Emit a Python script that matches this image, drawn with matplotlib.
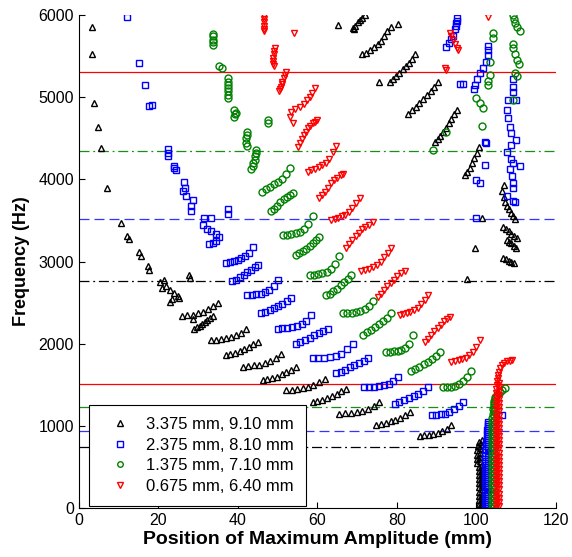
import matplotlib
matplotlib.use("Agg")
import matplotlib.pyplot as plt

# ---- data: position of maximum amplitude (mm) vs frequency (Hz) ----

labels = ["3.375 mm, 9.10 mm", "2.375 mm, 8.10 mm",
          "1.375 mm, 7.10 mm", "0.675 mm, 6.40 mm"]

# 3.375 mm case
black_pos = [
    3.4, 3.4, 3.9, 4.8, 5.6, 7.1, 10.5, 12.2, 12.6, 15.2, 15.5, 17.4, 17.6,
    20.5, 21.5, 22.0, 21.0, 23.0, 24.0, 24.8, 23.5, 22.8, 25.2, 27.7, 28.0,
    26.0, 27.3, 28.6, 29.9, 31.2, 32.5, 33.8, 35.0, 28.8,
    29.0, 29.7, 30.4, 31.0, 31.7, 32.3, 33.0, 33.6,
    33.2, 34.5, 35.7, 37.0, 38.3, 39.5, 40.8, 42.0,
    37.0, 38.1, 39.3, 40.4, 41.6, 42.7, 43.9, 45.0,
    41.2, 42.6, 44.0, 45.3, 46.7, 48.1, 49.5, 50.8,
    46.2, 47.4, 48.6, 49.8, 51.0, 52.2, 53.4, 54.6,
    52.1, 53.5, 54.9, 56.3, 57.6, 59.0, 60.4, 61.8,
    58.8, 60.0, 61.2, 62.4, 63.6, 64.8, 66.0, 67.2,
    65.5, 67.0, 68.4, 69.9, 71.3, 72.8, 74.2, 75.6,
    74.8, 76.0, 77.2, 78.4, 79.6, 80.8, 82.0, 83.2,
    85.7, 86.8, 88.0, 89.1, 90.3, 91.4, 92.6, 93.7,
    65.1, 69.3, 80.3, 68.9, 69.5, 70.1, 70.7, 71.3, 71.9,
    71.2, 72.2, 73.2, 74.2, 75.2, 76.0, 76.8, 77.6, 78.5,
    75.6, 78.2, 79.0, 79.8, 80.6, 81.4, 82.2, 83.0, 83.8, 84.5,
    82.8, 83.7, 84.7, 85.6, 86.6, 87.5, 88.5, 89.4, 90.3,
    89.5, 90.2, 90.9, 91.6, 92.3, 93.0, 93.7, 94.4, 95.0,
    97.1, 97.7, 98.3, 98.9, 99.5, 100.1, 100.7,
    97.5, 99.6, 101.3,
    107.0, 106.5, 106.8, 107.3, 107.8, 108.3, 108.8, 109.3, 109.8,
    106.7, 107.4, 108.1, 108.8, 109.5, 110.1,
    107.6, 108.2, 108.8, 109.4, 109.9,
    106.7, 107.4, 108.1, 108.8, 109.4,
]
black_freq = [
    5860, 5520, 4925, 4640, 4380, 3890, 3470, 3310, 3270, 3110, 3070, 2950, 2900,
    2750, 2770, 2700, 2680, 2650, 2620, 2580, 2540, 2510, 2560, 2830, 2800,
    2340, 2345, 2355, 2370, 2390, 2420, 2460, 2500, 2300,
    2180, 2200, 2220, 2240, 2260, 2285, 2310, 2340,
    2040, 2045, 2055, 2065, 2080, 2100, 2135, 2180,
    1860, 1875, 1890, 1910, 1935, 1960, 1990, 2020,
    1720, 1725, 1735, 1745, 1760, 1785, 1825, 1880,
    1560, 1570, 1585, 1600, 1625, 1650, 1685, 1720,
    1430, 1435, 1445, 1455, 1470, 1495, 1530, 1570,
    1290, 1300, 1315, 1335, 1360, 1390, 1420, 1450,
    1150, 1155, 1160, 1170, 1185, 1205, 1240, 1290,
    1010, 1020, 1035, 1055, 1075, 1100, 1135, 1170,
    880, 885, 890, 900, 915, 935, 965, 1010,
    5880, 5830, 5890, 5840, 5870, 5910, 5940, 5970, 6000,
    5520, 5540, 5570, 5610, 5650, 5690, 5740, 5800, 5850,
    5190, 5190, 5220, 5260, 5300, 5340, 5380, 5420, 5470, 5530,
    4800, 4840, 4880, 4930, 4980, 5030, 5080, 5130, 5190,
    4460, 4490, 4530, 4580, 4630, 4680, 4730, 4790, 4840,
    4050, 4090, 4140, 4200, 4260, 4320, 4390,
    2790, 3160, 3525,
    3930, 3860, 3790, 3730, 3680, 3640, 3590, 3550, 3520,
    3420, 3390, 3370, 3340, 3310, 3290,
    3260, 3240, 3220, 3190, 3160,
    3040, 3030, 3010, 2990, 2980,
]
black_col_pos = [100.6, 101.4, 100.6, 101.4, 100.6, 101.4, 100.6, 101.4,
                 100.6, 101.4, 100.6, 101.4, 100.6, 101.4, 100.6, 101.4,
                 100.6, 101.4, 100.6, 101.4, 100.6, 101.4, 100.2, 101.0,
                 100.2, 101.0, 100.2, 101.0, 100.2, 101.0, 100.4, 101.2,
                 100.6, 101.4]
black_col_freq = [0, 25, 50, 75, 100, 125, 150, 175, 200, 225, 250, 275,
                  300, 325, 350, 375, 400, 425, 450, 475, 500, 525, 550, 575,
                  600, 625, 650, 675, 700, 725, 750, 775, 800, 825]

# 2.375 mm case
blue_pos = [
    12.0, 15.1, 16.5, 17.7, 18.3, 22.3, 22.3, 22.3, 23.8, 24.4, 24.0,
    26.5, 26.7, 26.2, 26.9, 28.6, 28.3, 28.1, 37.4, 37.4,
    31.5, 33.2, 31.1, 32.2, 33.2, 34.4, 35.3, 34.5, 33.6, 32.8,
    37.0, 38.0, 38.9, 39.9, 40.8, 41.8, 42.7, 43.7,
    38.5, 39.4, 40.4, 41.4, 42.3, 43.3, 44.2, 45.0,
    42.4, 43.5, 44.6, 45.7, 46.8, 47.9, 49.0, 50.0,
    45.8, 46.9, 48.0, 49.0, 50.1, 51.2, 52.3, 53.4,
    50.0, 51.2, 52.4, 53.6, 54.8, 56.0, 57.2, 58.4,
    54.6, 55.7, 56.9, 58.0, 59.2, 60.3, 61.5, 62.6,
    58.8, 60.2, 61.7, 63.1, 64.6, 66.0, 67.5, 68.9,
    64.7, 65.8, 67.0, 68.1, 69.3, 70.4, 71.6, 72.7,
    71.8, 73.0, 74.2, 75.4, 76.7, 77.9, 79.1, 80.3,
    79.4, 80.6, 81.8, 83.0, 84.2, 85.4, 86.6, 87.8,
    88.7, 89.8, 91.0, 92.1, 93.2, 94.4, 95.5, 96.6,
    92.4, 93.2, 93.5, 94.1, 94.5, 94.9, 95.0, 95.0, 94.9,
    95.8, 96.5,
    99.6, 99.4, 100.2, 101.0, 101.7, 102.5, 102.9, 102.9, 103.0,
    100.0, 100.8, 102.1, 102.5, 102.2, 100.0, 106.3,
    109.2, 109.2, 109.2, 108.0, 110.0, 107.6, 108.0, 108.4, 108.8, 110.0,
    108.8, 107.8, 108.6, 109.2, 110.9, 108.4, 109.0, 109.3, 109.2, 107.6,
    109.2, 109.6,
]
blue_freq = [
    5980, 5420, 5150, 4890, 4900, 4370, 4320, 4280, 4160, 4110, 4140,
    3970, 3900, 3860, 3800, 3750, 3680, 3620, 3640, 3580,
    3530, 3530, 3440, 3400, 3370, 3340, 3300, 3250, 3230, 3210,
    2980, 2990, 3005, 3020, 3040, 3065, 3100, 3180,
    2760, 2780, 2810, 2840, 2870, 2900, 2930, 2960,
    2590, 2595, 2600, 2610, 2625, 2650, 2700, 2770,
    2370, 2390, 2410, 2430, 2455, 2480, 2515, 2560,
    2180, 2185, 2190, 2200, 2215, 2240, 2280, 2350,
    2000, 2025, 2050, 2075, 2100, 2125, 2150, 2180,
    1820, 1825, 1830, 1840, 1855, 1880, 1930, 2000,
    1640, 1660, 1685, 1710, 1740, 1765, 1795, 1820,
    1470, 1472, 1478, 1485, 1495, 1510, 1540, 1600,
    1270, 1290, 1310, 1335, 1360, 1390, 1425, 1470,
    1130, 1135, 1140, 1150, 1170, 1200, 1240, 1290,
    5610, 5660, 5710, 5750, 5830, 5900, 5970, 5930, 5870,
    5160, 5160,
    5150, 5100, 5220, 5290, 5350, 5430, 5510, 5580, 5620,
    3990, 3950, 4180, 4440, 4460, 3525, 1130,
    5220, 5130, 5060, 4970, 4970, 4850, 4750, 4640, 4560, 4480,
    4420, 4330, 4250, 4200, 4160, 4120, 4040, 3960, 3900, 3800,
    3740, 3720,
]
blue_col_pos = [102.2, 103.0, 102.2, 103.0, 102.2, 103.0, 102.2, 103.0,
                102.2, 103.0, 102.2, 103.0, 102.2, 103.0, 102.2, 103.0,
                102.2, 103.0, 102.2, 103.0, 102.2, 103.0, 102.2, 103.0,
                102.2, 103.0, 102.2, 103.0, 102.2, 103.0, 102.4, 103.0,
                102.4, 103.0, 102.6, 103.0, 102.6, 103.0, 102.6, 103.0,
                102.8, 103.0, 102.8]
blue_col_freq = [0, 25, 50, 75, 100, 125, 150, 175, 200, 225, 250, 275,
                 300, 325, 350, 375, 400, 425, 450, 475, 500, 525, 550, 575,
                 600, 625, 650, 675, 700, 725, 750, 775, 800, 825, 850, 875,
                 900, 925, 950, 975, 1000, 1025, 1050]

# 1.375 mm case
green_pos = [
    33.6, 33.6, 33.6, 33.6, 33.6, 35.3, 36.1,
    37.4, 37.4, 37.4, 37.4, 37.4, 37.4, 37.4,
    39.1, 39.6, 39.3, 39.1, 47.5, 47.5, 42.4, 42.2, 42.0, 41.9, 42.4,
    44.5, 44.5, 44.4, 44.2, 43.9, 43.7, 43.4,
    46.0, 47.0, 48.0, 49.0, 50.0, 51.0, 52.0, 53.0,
    48.3, 49.1, 49.9, 50.7, 51.5, 52.3, 53.1, 53.8,
    51.3, 52.4, 53.4, 54.5, 55.6, 56.6, 57.7, 58.8,
    54.6, 55.4, 56.3, 57.1, 58.0, 58.8, 59.7, 60.5,
    58.0, 59.1, 60.1, 61.2, 62.3, 63.3, 64.4, 65.5,
    62.2, 63.1, 64.0, 64.9, 65.8, 66.7, 67.6, 68.5,
    66.4, 67.5, 68.6, 69.7, 70.8, 71.9, 73.0, 74.0,
    71.4, 72.4, 73.4, 74.5, 75.5, 76.5, 77.6, 78.6,
    77.3, 78.3, 79.2, 80.2, 81.1, 82.1, 83.0, 84.0,
    83.6, 84.6, 85.6, 86.7, 87.7, 88.7, 89.8, 90.8,
    91.6, 92.6, 93.6, 94.6, 95.6, 96.6, 97.7, 98.7,
    104.7, 105.2, 105.8, 106.5, 107.3,
    89.1, 92.4, 101.3, 100.0, 100.8, 101.7, 102.9, 102.9, 103.3, 103.4,
    104.2, 104.2,
    109.2, 109.4, 109.8, 110.3, 110.9, 109.2, 109.2, 109.6, 110.3, 110.8,
    109.8, 110.3, 109.2,
]
green_freq = [
    5770, 5740, 5700, 5670, 5640, 5380, 5350,
    5230, 5190, 5150, 5110, 5070, 5030, 4990,
    4850, 4810, 4790, 4760, 4720, 4680, 4580, 4540, 4500, 4440, 4400,
    4360, 4320, 4280, 4240, 4200, 4160, 4130,
    3850, 3880, 3910, 3940, 3970, 4010, 4070, 4140,
    3610, 3640, 3680, 3720, 3760, 3790, 3810, 3830,
    3320, 3325, 3330, 3345, 3365, 3400, 3460, 3560,
    3080, 3100, 3125, 3155, 3190, 3225, 3265, 3300,
    2840, 2840, 2845, 2855, 2875, 2910, 2970, 3070,
    2590, 2610, 2640, 2670, 2710, 2750, 2790, 2830,
    2370, 2372, 2378, 2388, 2400, 2420, 2455, 2520,
    2110, 2140, 2170, 2200, 2235, 2270, 2310, 2370,
    1900, 1900, 1905, 1910, 1925, 1950, 2000, 2110,
    1670, 1690, 1720, 1750, 1780, 1810, 1850, 1900,
    1470, 1472, 1478, 1490, 1510, 1545, 1600, 1670,
    1350, 1380, 1410, 1430, 1460,
    4360, 4580, 4650, 4990, 4930, 4870, 5150, 5200, 5270, 5430,
    5780, 5720,
    6000, 5950, 5900, 5850, 5800, 5650, 5600, 5530, 5450, 5400,
    5300, 5260, 4960,
]
green_col_pos = [103.9, 104.5, 103.9, 104.5, 103.9, 104.5, 103.9, 104.5,
                 103.9, 104.5, 103.9, 104.5, 103.9, 104.5, 103.9, 104.5,
                 103.9, 104.5, 103.9, 104.5, 103.9, 104.5, 103.9, 104.5,
                 103.9, 104.5, 103.9, 104.5, 103.9, 104.5, 103.9, 104.5,
                 103.9, 104.5, 103.9, 104.5, 103.9, 104.5, 103.9, 104.5,
                 103.9, 104.5, 103.9, 104.5, 103.9, 104.5, 104.1, 104.5,
                 104.1, 104.5, 104.3, 104.5, 104.3, 104.6]
green_col_freq = [0, 25, 50, 75, 100, 125, 150, 175, 200, 225, 250, 275,
                  300, 325, 350, 375, 400, 425, 450, 475, 500, 525, 550, 575,
                  600, 625, 650, 675, 700, 725, 750, 775, 800, 825, 850, 875,
                  900, 925, 950, 975, 1000, 1025, 1050, 1075, 1100, 1125,
                  1150, 1175, 1200, 1225, 1250, 1275, 1300, 1330]

# 0.675 mm case
red_pos = [
    46.6, 46.6, 46.6, 46.6, 46.6, 46.6, 54.2,
    49.2, 49.1, 49.0, 48.9, 48.8, 48.7, 49.0,
    52.0, 51.8, 51.5, 51.2, 51.0, 50.8, 50.6, 50.4,
    53.8, 53.2, 53.4, 54.4, 55.6, 56.6, 57.4, 58.0, 58.6, 59.4,
    55.0, 55.5, 56.0, 56.5, 57.0, 57.6, 58.2, 58.8, 59.3, 59.8,
    57.6, 58.5, 59.4, 60.3, 61.2, 62.1, 63.0, 63.9, 64.7,
    60.5, 61.2, 61.9, 62.6, 63.4, 64.2, 65.0, 65.8, 66.4,
    63.4, 64.3, 65.2, 66.1, 67.0, 67.9, 68.8, 69.7, 70.6,
    67.2, 68.0, 68.8, 69.6, 70.4, 71.2, 72.0, 72.9, 73.9,
    71.0, 72.0, 73.0, 74.0, 75.0, 75.9, 76.8, 77.7, 78.6,
    75.2, 76.0, 76.8, 77.6, 78.4, 79.2, 80.1, 81.0, 81.9,
    80.7, 81.6, 82.5, 83.4, 84.3, 85.2, 86.1, 87.0, 87.8,
    87.0, 87.8, 88.6, 89.4, 90.2, 91.0, 91.8, 92.6, 93.3,
    93.7, 94.6, 95.5, 96.4, 97.3, 98.2, 99.0, 99.9, 100.8,
    105.4, 105.5, 105.6, 105.9, 106.4, 107.0, 107.7, 108.4, 108.9,
    102.9, 92.0, 92.4, 93.3, 93.7, 94.0, 94.6, 95.2, 95.4,
]
red_freq = [
    5990, 5950, 5910, 5870, 5830, 5800, 5780,
    5600, 5560, 5520, 5480, 5440, 5410, 5380,
    5310, 5270, 5230, 5190, 5160, 5130, 5100, 5080,
    4690, 4760, 4820, 4860, 4880, 4920, 4960, 5000, 5050, 5110,
    4390, 4440, 4490, 4540, 4580, 4620, 4650, 4680, 4700, 4720,
    4090, 4110, 4130, 4150, 4170, 4200, 4250, 4330, 4400,
    3770, 3810, 3850, 3900, 3950, 3990, 4020, 4050, 4070,
    3500, 3515, 3530, 3550, 3570, 3600, 3650, 3710, 3770,
    3160, 3210, 3260, 3310, 3350, 3390, 3420, 3450, 3480,
    2890, 2900, 2910, 2930, 2960, 3000, 3050, 3100, 3160,
    2570, 2610, 2650, 2700, 2740, 2780, 2820, 2860, 2890,
    2350, 2360, 2370, 2390, 2410, 2440, 2480, 2530, 2590,
    2020, 2060, 2110, 2150, 2190, 2230, 2270, 2300, 2330,
    1780, 1790, 1800, 1815, 1830, 1860, 1900, 1960, 2040,
    1580, 1620, 1660, 1700, 1740, 1765, 1785, 1795, 1800,
    5980, 5360, 5330, 5780, 5740, 5700, 5650, 5600, 5580,
]
red_col_pos = [104.9, 105.6, 104.9, 105.6, 104.9, 105.6, 104.9, 105.6,
               104.9, 105.6, 104.9, 105.6, 104.9, 105.6, 104.9, 105.6,
               104.9, 105.6, 104.9, 105.6, 104.9, 105.6, 104.9, 105.6,
               104.9, 105.6, 104.9, 105.6, 104.9, 105.6, 104.9, 105.6,
               104.9, 105.6, 104.9, 105.6, 104.9, 105.6, 104.9, 105.6,
               104.9, 105.6, 104.9, 105.6, 104.9, 105.6, 104.9, 105.6,
               104.9, 105.6, 104.9, 105.6, 104.9, 105.6, 104.9, 105.6,
               104.9, 105.6, 105.0, 105.6, 105.1, 105.6, 105.2]
red_col_freq = [0, 25, 50, 75, 100, 125, 150, 175, 200, 225, 250, 275,
                300, 325, 350, 375, 400, 425, 450, 475, 500, 525, 550, 575,
                600, 625, 650, 675, 700, 725, 750, 775, 800, 825, 850, 875,
                900, 925, 950, 975, 1000, 1025, 1050, 1075, 1100, 1125,
                1150, 1175, 1200, 1225, 1250, 1275, 1300, 1325, 1350, 1375,
                1400, 1425, 1450, 1475, 1500, 1525, 1550]

# horizontal reference frequencies (Hz)
ref_freqs = [5310, 4345, 3515, 2765, 1515, 1235, 940, 745]
ref_colors = ["#ff0000", "#1a8c1a", "#3333ff", "#000000",
              "#ff0000", "#1a8c1a", "#3333ff", "#000000"]
ref_styles = ["solid", "dashdot", "dashed", "dashdot",
              "solid", "dashdot", "dashed", "dashdot"]

colors = ["#000000", "#0000ff", "#008000", "#ff0000"]
markers = ["^", "s", "o", "v"]

plt.rcParams["font.family"] = ["Liberation Sans", "DejaVu Sans"]

fig = plt.figure(figsize=(5.72, 5.57), dpi=100)
ax = fig.add_axes([0.138, 0.088, 0.834, 0.885])

dash_map = {"solid": "-", "dashed": (0, (8, 4)), "dashdot": (0, (8, 3, 1.5, 3))}
for f, c, s in zip(ref_freqs, ref_colors, ref_styles):
    ax.axhline(f, color=c, linestyle=dash_map[s], linewidth=0.9, zorder=1)

groups = [
    (black_pos, black_freq, black_col_pos, black_col_freq),
    (blue_pos, blue_freq, blue_col_pos, blue_col_freq),
    (green_pos, green_freq, green_col_pos, green_col_freq),
    (red_pos, red_freq, red_col_pos, red_col_freq),
]
handles = []
for (px, fy, cx, cy), c, m, lab in zip(groups, colors, markers, labels):
    style = dict(linestyle="none", marker=m, markersize=5,
                 markerfacecolor="none", markeredgecolor=c,
                 markeredgewidth=1.0, zorder=2)
    h, = ax.plot(px, fy, label=lab, **style)
    ax.plot(cx, cy, **style)
    handles.append(h)

ax.set_xlim(0, 120)
ax.set_ylim(0, 6000)
ax.set_xticks(range(0, 121, 20))
ax.set_yticks(range(0, 6001, 1000))
ax.tick_params(direction="in", length=4, labelsize=11.5, width=0.8)
for side in ("top", "right"):
    ax.spines[side].set_visible(False)
for side in ("left", "bottom"):
    ax.spines[side].set_linewidth(0.8)

ax.set_xlabel("Position of Maximum Amplitude (mm)", fontsize=14,
              fontweight="bold", labelpad=2)
ax.set_ylabel("Frequency (Hz)", fontsize=13, fontweight="bold", labelpad=6)

leg = ax.legend(handles=handles, loc="lower left",
                bbox_to_anchor=(0.022, 0.005), fontsize=12,
                fancybox=False, framealpha=1, edgecolor="black",
                borderpad=0.7, labelspacing=0.34, handlelength=2.3,
                handletextpad=0.4, borderaxespad=0, markerscale=0.8)
leg.get_frame().set_linewidth(0.8)

fig.savefig("out.png", dpi=100)
